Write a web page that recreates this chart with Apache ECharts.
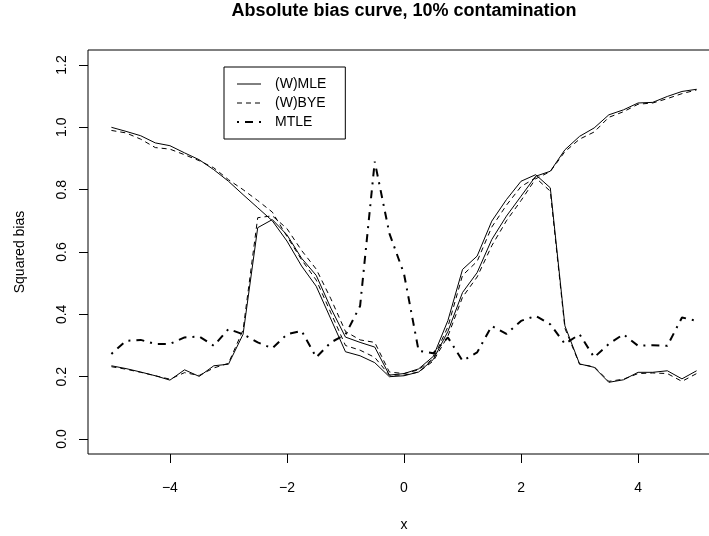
<!DOCTYPE html>
<html><head><meta charset="utf-8">
<script src="https://cdn.jsdelivr.net/npm/echarts@6/dist/echarts.min.js"></script>
<style>html,body{margin:0;padding:0;background:#fff}#c{width:709px;height:536px}</style>
</head><body><div id="c"></div>
<script>
const xValues = [-5,-4.75,-4.5,-4.25,-4,-3.75,-3.5,-3.25,-3,-2.75,-2.5,-2.25,-2,-1.75,-1.5,-1.25,-1,-0.75,-0.5,-0.25,0,0.25,0.5,0.75,1,1.25,1.5,1.75,2,2.25,2.5,2.75,3,3.25,3.5,3.75,4,4.25,4.5,4.75,5];
// (W)MLE, curve falling from 1.0 to the centre and rising to 1.12
const mleV = [1.000,0.987,0.973,0.950,0.941,0.918,0.896,0.864,0.827,0.784,0.742,0.700,0.635,0.555,0.490,0.385,0.280,0.267,0.245,0.200,0.203,0.215,0.255,0.345,0.470,0.534,0.640,0.715,0.779,0.843,0.859,0.928,0.971,0.998,1.040,1.056,1.078,1.080,1.099,1.115,1.122];
// (W)MLE, curve with the two humps
const mleM = [0.235,0.226,0.215,0.203,0.189,0.222,0.201,0.235,0.240,0.336,0.678,0.704,0.655,0.580,0.525,0.420,0.327,0.310,0.295,0.205,0.210,0.225,0.265,0.380,0.544,0.587,0.699,0.768,0.827,0.848,0.806,0.363,0.241,0.230,0.182,0.190,0.214,0.214,0.219,0.193,0.219];
// (W)BYE, counterparts
const byeV = [0.990,0.982,0.962,0.935,0.930,0.912,0.893,0.870,0.832,0.800,0.765,0.728,0.650,0.575,0.510,0.405,0.300,0.285,0.262,0.205,0.205,0.215,0.250,0.330,0.455,0.520,0.620,0.700,0.765,0.835,0.858,0.922,0.962,0.985,1.032,1.050,1.074,1.078,1.092,1.108,1.120];
const byeM = [0.232,0.224,0.214,0.203,0.192,0.213,0.204,0.228,0.243,0.350,0.710,0.716,0.675,0.605,0.545,0.450,0.345,0.318,0.310,0.215,0.210,0.222,0.258,0.360,0.525,0.570,0.680,0.750,0.810,0.838,0.795,0.355,0.240,0.232,0.185,0.192,0.210,0.212,0.210,0.185,0.210];
// MTLE
const mtle = [0.273,0.315,0.318,0.305,0.305,0.326,0.329,0.299,0.353,0.336,0.310,0.291,0.336,0.347,0.262,0.310,0.335,0.427,0.890,0.660,0.530,0.283,0.275,0.326,0.251,0.278,0.363,0.337,0.379,0.395,0.368,0.305,0.336,0.262,0.305,0.336,0.299,0.301,0.299,0.390,0.379];

const xTicks = [-4,-2,0,2,4];
const yTicks = [0,0.2,0.4,0.6,0.8,1.0,1.2];
const legendNames = ['(W)MLE','(W)BYE','MTLE'];
const titleText = 'Absolute bias curve, 10% contamination';
const xName = 'x';
const yName = 'Squared bias';

const FONT = '"Liberation Sans", Arial, Helvetica, sans-serif';
const chart = echarts.init(document.getElementById('c'), null, {renderer:'canvas'});

function mk(name, arr, type, width) {
  return {
    type: 'line', name: name,
    data: xValues.map((x, i) => [x, arr[i]]),
    symbol: 'none', showSymbol: false, silent: true,
    lineStyle: {color: '#000', width: width, type: type},
    itemStyle: {color: '#000'},
    emphasis: {disabled: true},
    animation: false
  };
}

chart.setOption({
  backgroundColor: '#fff',
  animation: false,
  title: {
    text: titleText, left: 404, top: 2, padding: 0, textAlign: 'center',
    textStyle: {fontFamily: FONT, fontSize: 18, fontWeight: 'bold', color: '#000'}
  },
  legend: {
    data: legendNames, orient: 'vertical', left: 224, top: 67,
    selectedMode: false,
    itemWidth: 24, itemHeight: 11, itemGap: 5,
    padding: [10, 19, 10, 12],
    borderColor: '#000', borderWidth: 1,
    itemStyle: {color: 'transparent', borderWidth: 0},
    lineStyle: {width: 'inherit', color: '#000'},
    textStyle: {fontFamily: FONT, fontSize: 14, color: '#000', padding: [0, 0, 0, 9]}
  },
  grid: {
    left: 88, top: 50, width: 632, height: 404,
    show: true, borderColor: '#000', borderWidth: 1, backgroundColor: 'transparent',
    outerBoundsMode: 'none', containLabel: false
  },
  xAxis: {
    type: 'value', min: -5.4, max: 5.4,
    name: xName, nameLocation: 'middle', nameGap: 64,
    nameTextStyle: {fontFamily: FONT, fontSize: 14, color: '#000'},
    axisLine: {show: false, onZero: false},
    axisTick: {show: true, length: 9, inside: false, customValues: xTicks, lineStyle: {color: '#000'}},
    axisLabel: {customValues: xTicks, margin: 27, fontFamily: FONT, fontSize: 14, color: '#000',
      formatter: v => (v < 0 ? '\u2212' + Math.abs(v) : String(v))},
    splitLine: {show: false}
  },
  yAxis: {
    type: 'value', min: -0.048, max: 1.248,
    name: yName, nameLocation: 'middle', nameGap: 61, nameRotate: 90,
    nameTextStyle: {fontFamily: FONT, fontSize: 14, color: '#000'},
    axisLine: {show: false, onZero: false},
    axisTick: {show: true, length: 9, inside: false, customValues: yTicks, lineStyle: {color: '#000'}},
    axisLabel: {customValues: yTicks, margin: 19, rotate: 90, fontFamily: FONT, fontSize: 14, color: '#000',
      formatter: v => v.toFixed(1)},
    splitLine: {show: false}
  },
  series: [
    mk(legendNames[0], mleV, 'solid', 1),
    mk(legendNames[0], mleM, 'solid', 1),
    mk(legendNames[1], byeV, [5, 4], 1),
    mk(legendNames[1], byeM, [5, 4], 1),
    mk(legendNames[2], mtle, [2, 6, 8, 6], 2)
  ]
});
</script>
</body></html>
